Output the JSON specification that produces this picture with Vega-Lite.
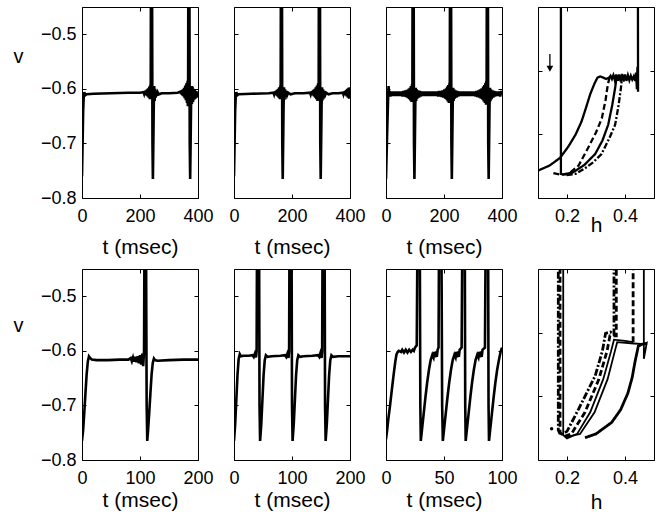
{
"$schema":"https://vega.github.io/schema/vega-lite/v6.json",
"padding":{"left":12,"top":6,"right":0,"bottom":0},
"background":"white",
"config":{
 "view":{"stroke":"black","strokeWidth":1},
 "axis":{"grid":false,"domain":false,"tickSize":-4,"tickColor":"black","tickWidth":1,"labelFont":"Liberation Sans","titleFont":"Liberation Sans","labelFontSize":18,"titleFontSize":21,"labelColor":"black","titleColor":"black","titleFontWeight":"normal","labelFlush":false,"labelOverlap":false},
 "axisBottom":{"labelBaseline":"alphabetic","labelPadding":27.5},
 "axisLeft":{"labelPadding":10},
 "line":{"strokeWidth":2.6}
},
"datasets":{
"ts":[
{"p":1,"t":0,"v":-0.760},{"p":1,"t":2,"v":-0.700},{"p":1,"t":4,"v":-0.640},{"p":1,"t":6,"v":-0.614},{"p":1,"t":8,"v":-0.606},{"p":1,"t":11,"v":-0.612},{"p":1,"t":16,"v":-0.610},{"p":1,"t":40,"v":-0.609},{"p":1,"t":100,"v":-0.608},{"p":1,"t":160,"v":-0.607},{"p":1,"t":200,"v":-0.607},{"p":1,"t":212,"v":-0.606},
{"p":1,"t":214,"v":-0.609},{"p":1,"t":216,"v":-0.604},{"p":1,"t":218,"v":-0.611},{"p":1,"t":220,"v":-0.603},{"p":1,"t":222,"v":-0.612},{"p":1,"t":224,"v":-0.601},{"p":1,"t":226,"v":-0.614},{"p":1,"t":228,"v":-0.599},{"p":1,"t":230,"v":-0.616},{"p":1,"t":232,"v":-0.596},{"p":1,"t":234,"v":-0.619},{"p":1,"t":236,"v":-0.592},{"p":1,"t":237,"v":-0.600},
{"p":1,"t":238,"v":-0.30},{"p":1,"t":241,"v":-0.30},{"p":1,"t":243,"v":-0.700},{"p":1,"t":244.5,"v":-0.765},{"p":1,"t":246,"v":-0.700},{"p":1,"t":247.5,"v":-0.630},{"p":1,"t":249,"v":-0.595},{"p":1,"t":250.5,"v":-0.622},{"p":1,"t":252,"v":-0.600},{"p":1,"t":254,"v":-0.616},{"p":1,"t":256,"v":-0.603},{"p":1,"t":258,"v":-0.613},{"p":1,"t":261,"v":-0.606},{"p":1,"t":265,"v":-0.610},{"p":1,"t":275,"v":-0.608},{"p":1,"t":300,"v":-0.608},{"p":1,"t":330,"v":-0.607},
{"p":1,"t":340,"v":-0.605},{"p":1,"t":342,"v":-0.610},{"p":1,"t":344,"v":-0.603},{"p":1,"t":346,"v":-0.612},{"p":1,"t":348,"v":-0.601},{"p":1,"t":350,"v":-0.614},{"p":1,"t":352,"v":-0.598},{"p":1,"t":354,"v":-0.617},{"p":1,"t":356,"v":-0.594},{"p":1,"t":358,"v":-0.621},{"p":1,"t":360,"v":-0.590},{"p":1,"t":362,"v":-0.626},{"p":1,"t":364,"v":-0.585},{"p":1,"t":365,"v":-0.632},{"p":1,"t":366,"v":-0.580},
{"p":1,"t":367,"v":-0.30},{"p":1,"t":370,"v":-0.30},{"p":1,"t":371.5,"v":-0.700},{"p":1,"t":373,"v":-0.765},{"p":1,"t":374.5,"v":-0.700},{"p":1,"t":376,"v":-0.630},{"p":1,"t":377.5,"v":-0.595},{"p":1,"t":379,"v":-0.628},{"p":1,"t":381,"v":-0.596},{"p":1,"t":383,"v":-0.624},{"p":1,"t":385,"v":-0.600},{"p":1,"t":387,"v":-0.620},{"p":1,"t":389,"v":-0.602},{"p":1,"t":391,"v":-0.618},{"p":1,"t":393,"v":-0.604},{"p":1,"t":395,"v":-0.616},{"p":1,"t":397,"v":-0.605},{"p":1,"t":399,"v":-0.614},{"p":1,"t":400,"v":-0.608},

{"p":2,"t":0,"v":-0.760},{"p":2,"t":2,"v":-0.700},{"p":2,"t":4,"v":-0.640},{"p":2,"t":6,"v":-0.614},{"p":2,"t":8,"v":-0.606},{"p":2,"t":11,"v":-0.612},{"p":2,"t":16,"v":-0.610},{"p":2,"t":60,"v":-0.609},{"p":2,"t":120,"v":-0.608},{"p":2,"t":136,"v":-0.607},
{"p":2,"t":138,"v":-0.610},{"p":2,"t":140,"v":-0.605},{"p":2,"t":142,"v":-0.611},{"p":2,"t":144,"v":-0.604},{"p":2,"t":146,"v":-0.612},{"p":2,"t":148,"v":-0.602},{"p":2,"t":150,"v":-0.614},{"p":2,"t":152,"v":-0.600},{"p":2,"t":154,"v":-0.616},{"p":2,"t":156,"v":-0.597},{"p":2,"t":158,"v":-0.619},{"p":2,"t":160,"v":-0.594},{"p":2,"t":161,"v":-0.600},
{"p":2,"t":162,"v":-0.30},{"p":2,"t":165,"v":-0.30},{"p":2,"t":166.5,"v":-0.700},{"p":2,"t":168,"v":-0.765},{"p":2,"t":169.5,"v":-0.700},{"p":2,"t":171,"v":-0.630},{"p":2,"t":172.5,"v":-0.597},{"p":2,"t":174,"v":-0.620},{"p":2,"t":176,"v":-0.601},{"p":2,"t":178,"v":-0.615},{"p":2,"t":180,"v":-0.604},{"p":2,"t":183,"v":-0.612},{"p":2,"t":187,"v":-0.607},{"p":2,"t":195,"v":-0.610},{"p":2,"t":210,"v":-0.608},{"p":2,"t":240,"v":-0.608},{"p":2,"t":262,"v":-0.607},
{"p":2,"t":264,"v":-0.610},{"p":2,"t":266,"v":-0.605},{"p":2,"t":268,"v":-0.611},{"p":2,"t":270,"v":-0.604},{"p":2,"t":272,"v":-0.612},{"p":2,"t":274,"v":-0.602},{"p":2,"t":276,"v":-0.614},{"p":2,"t":278,"v":-0.600},{"p":2,"t":280,"v":-0.616},{"p":2,"t":282,"v":-0.597},{"p":2,"t":284,"v":-0.619},{"p":2,"t":286,"v":-0.594},{"p":2,"t":288,"v":-0.622},{"p":2,"t":290,"v":-0.590},{"p":2,"t":292,"v":-0.600},
{"p":2,"t":293,"v":-0.30},{"p":2,"t":296,"v":-0.30},{"p":2,"t":297.5,"v":-0.700},{"p":2,"t":299,"v":-0.765},{"p":2,"t":300.5,"v":-0.700},{"p":2,"t":302,"v":-0.630},{"p":2,"t":303.5,"v":-0.597},{"p":2,"t":305,"v":-0.621},{"p":2,"t":307,"v":-0.601},{"p":2,"t":309,"v":-0.616},{"p":2,"t":311,"v":-0.604},{"p":2,"t":314,"v":-0.612},{"p":2,"t":318,"v":-0.607},{"p":2,"t":326,"v":-0.610},{"p":2,"t":340,"v":-0.608},{"p":2,"t":360,"v":-0.608},{"p":2,"t":375,"v":-0.607},
{"p":2,"t":377,"v":-0.610},{"p":2,"t":379,"v":-0.605},{"p":2,"t":381,"v":-0.611},{"p":2,"t":383,"v":-0.604},{"p":2,"t":385,"v":-0.612},{"p":2,"t":387,"v":-0.602},{"p":2,"t":389,"v":-0.614},{"p":2,"t":391,"v":-0.600},{"p":2,"t":393,"v":-0.616},{"p":2,"t":395,"v":-0.598},{"p":2,"t":397,"v":-0.618},{"p":2,"t":399,"v":-0.597},{"p":2,"t":400,"v":-0.612},

{"p":3,"t":0,"v":-0.765},{"p":3,"t":3,"v":-0.700},{"p":3,"t":6,"v":-0.640},{"p":3,"t":8,"v":-0.605},{"p":3,"t":9,"v":-0.595},{"p":3,"t":10,"v":-0.612},
{"p":3,"t":12,"v":-0.604},{"p":3,"t":15,"v":-0.614},{"p":3,"t":18,"v":-0.605},{"p":3,"t":21,"v":-0.613},{"p":3,"t":24,"v":-0.605},{"p":3,"t":27,"v":-0.613},{"p":3,"t":30,"v":-0.605},{"p":3,"t":33,"v":-0.613},{"p":3,"t":36,"v":-0.605},{"p":3,"t":39,"v":-0.613},{"p":3,"t":42,"v":-0.605},{"p":3,"t":45,"v":-0.613},{"p":3,"t":48,"v":-0.605},{"p":3,"t":51,"v":-0.613},{"p":3,"t":54,"v":-0.605},{"p":3,"t":57,"v":-0.614},{"p":3,"t":60,"v":-0.604},{"p":3,"t":63,"v":-0.614},{"p":3,"t":66,"v":-0.603},{"p":3,"t":69,"v":-0.615},{"p":3,"t":72,"v":-0.602},{"p":3,"t":75,"v":-0.617},{"p":3,"t":78,"v":-0.600},{"p":3,"t":80,"v":-0.619},{"p":3,"t":82,"v":-0.598},{"p":3,"t":84,"v":-0.621},{"p":3,"t":86,"v":-0.595},{"p":3,"t":88,"v":-0.624},{"p":3,"t":90,"v":-0.591},{"p":3,"t":91,"v":-0.600},
{"p":3,"t":92,"v":-0.30},{"p":3,"t":95,"v":-0.30},{"p":3,"t":96.5,"v":-0.700},{"p":3,"t":98,"v":-0.765},{"p":3,"t":99.5,"v":-0.700},{"p":3,"t":101,"v":-0.630},{"p":3,"t":102.5,"v":-0.598},{"p":3,"t":104,"v":-0.622},{"p":3,"t":106,"v":-0.601},{"p":3,"t":108,"v":-0.618},{"p":3,"t":111,"v":-0.603},{"p":3,"t":114,"v":-0.616},{"p":3,"t":117,"v":-0.604},{"p":3,"t":120,"v":-0.614},
{"p":3,"t":123,"v":-0.605},{"p":3,"t":126,"v":-0.613},{"p":3,"t":129,"v":-0.605},{"p":3,"t":132,"v":-0.613},{"p":3,"t":135,"v":-0.605},{"p":3,"t":138,"v":-0.613},{"p":3,"t":141,"v":-0.605},{"p":3,"t":144,"v":-0.613},{"p":3,"t":147,"v":-0.605},{"p":3,"t":150,"v":-0.613},{"p":3,"t":153,"v":-0.605},{"p":3,"t":156,"v":-0.613},{"p":3,"t":159,"v":-0.605},{"p":3,"t":162,"v":-0.613},{"p":3,"t":165,"v":-0.605},{"p":3,"t":168,"v":-0.613},{"p":3,"t":171,"v":-0.605},{"p":3,"t":174,"v":-0.613},{"p":3,"t":177,"v":-0.605},{"p":3,"t":180,"v":-0.614},{"p":3,"t":183,"v":-0.604},{"p":3,"t":186,"v":-0.614},{"p":3,"t":189,"v":-0.604},{"p":3,"t":192,"v":-0.615},{"p":3,"t":195,"v":-0.603},{"p":3,"t":198,"v":-0.616},{"p":3,"t":201,"v":-0.601},{"p":3,"t":204,"v":-0.618},{"p":3,"t":207,"v":-0.599},{"p":3,"t":209,"v":-0.620},{"p":3,"t":211,"v":-0.596},{"p":3,"t":213,"v":-0.623},{"p":3,"t":215,"v":-0.593},{"p":3,"t":217,"v":-0.626},{"p":3,"t":219,"v":-0.589},{"p":3,"t":220,"v":-0.600},
{"p":3,"t":221,"v":-0.30},{"p":3,"t":224,"v":-0.30},{"p":3,"t":225.5,"v":-0.700},{"p":3,"t":227,"v":-0.765},{"p":3,"t":228.5,"v":-0.700},{"p":3,"t":230,"v":-0.630},{"p":3,"t":231.5,"v":-0.598},{"p":3,"t":233,"v":-0.622},{"p":3,"t":235,"v":-0.601},{"p":3,"t":237,"v":-0.618},{"p":3,"t":240,"v":-0.603},{"p":3,"t":243,"v":-0.616},{"p":3,"t":246,"v":-0.604},{"p":3,"t":249,"v":-0.614},{"p":3,"t":252,"v":-0.605},
{"p":3,"t":255,"v":-0.613},{"p":3,"t":258,"v":-0.605},{"p":3,"t":261,"v":-0.613},{"p":3,"t":264,"v":-0.605},{"p":3,"t":267,"v":-0.613},{"p":3,"t":270,"v":-0.605},{"p":3,"t":273,"v":-0.613},{"p":3,"t":276,"v":-0.605},{"p":3,"t":279,"v":-0.613},{"p":3,"t":282,"v":-0.605},{"p":3,"t":285,"v":-0.613},{"p":3,"t":288,"v":-0.605},{"p":3,"t":291,"v":-0.613},{"p":3,"t":294,"v":-0.605},{"p":3,"t":297,"v":-0.613},{"p":3,"t":300,"v":-0.605},{"p":3,"t":303,"v":-0.613},{"p":3,"t":306,"v":-0.605},{"p":3,"t":309,"v":-0.614},{"p":3,"t":312,"v":-0.604},{"p":3,"t":315,"v":-0.615},{"p":3,"t":318,"v":-0.603},{"p":3,"t":321,"v":-0.616},{"p":3,"t":324,"v":-0.601},{"p":3,"t":327,"v":-0.618},{"p":3,"t":330,"v":-0.599},{"p":3,"t":333,"v":-0.620},{"p":3,"t":335,"v":-0.596},{"p":3,"t":337,"v":-0.623},{"p":3,"t":339,"v":-0.593},{"p":3,"t":341,"v":-0.626},{"p":3,"t":343,"v":-0.589},{"p":3,"t":345,"v":-0.629},{"p":3,"t":346,"v":-0.585},{"p":3,"t":347,"v":-0.600},
{"p":3,"t":348,"v":-0.30},{"p":3,"t":351,"v":-0.30},{"p":3,"t":352.5,"v":-0.700},{"p":3,"t":354,"v":-0.765},{"p":3,"t":355.5,"v":-0.700},{"p":3,"t":357,"v":-0.630},{"p":3,"t":358.5,"v":-0.598},{"p":3,"t":360,"v":-0.623},{"p":3,"t":362,"v":-0.601},{"p":3,"t":364,"v":-0.619},{"p":3,"t":367,"v":-0.603},{"p":3,"t":370,"v":-0.616},{"p":3,"t":373,"v":-0.604},{"p":3,"t":376,"v":-0.614},{"p":3,"t":379,"v":-0.605},{"p":3,"t":382,"v":-0.613},{"p":3,"t":385,"v":-0.605},{"p":3,"t":388,"v":-0.613},{"p":3,"t":391,"v":-0.605},{"p":3,"t":394,"v":-0.614},{"p":3,"t":397,"v":-0.604},{"p":3,"t":400,"v":-0.611},

{"p":5,"t":0,"v":-0.765},{"p":5,"t":2,"v":-0.745},{"p":5,"t":4,"v":-0.712},{"p":5,"t":6,"v":-0.677},{"p":5,"t":8,"v":-0.643},{"p":5,"t":10,"v":-0.620},{"p":5,"t":12,"v":-0.610},{"p":5,"t":14,"v":-0.613},{"p":5,"t":17,"v":-0.616},{"p":5,"t":25,"v":-0.617},{"p":5,"t":45,"v":-0.617},{"p":5,"t":65,"v":-0.616},{"p":5,"t":80,"v":-0.616},
{"p":5,"t":84,"v":-0.613},{"p":5,"t":86,"v":-0.619},{"p":5,"t":88,"v":-0.612},{"p":5,"t":90,"v":-0.620},{"p":5,"t":92,"v":-0.611},{"p":5,"t":94,"v":-0.621},{"p":5,"t":96,"v":-0.610},{"p":5,"t":98,"v":-0.623},{"p":5,"t":100,"v":-0.608},{"p":5,"t":102,"v":-0.625},{"p":5,"t":104,"v":-0.605},{"p":5,"t":105.5,"v":-0.628},{"p":5,"t":107,"v":-0.600},
{"p":5,"t":108,"v":-0.30},{"p":5,"t":110,"v":-0.30},{"p":5,"t":111.5,"v":-0.700},{"p":5,"t":112.5,"v":-0.765},{"p":5,"t":114,"v":-0.745},{"p":5,"t":116,"v":-0.712},{"p":5,"t":118,"v":-0.677},{"p":5,"t":120,"v":-0.643},{"p":5,"t":122,"v":-0.622},{"p":5,"t":124,"v":-0.614},{"p":5,"t":126,"v":-0.617},{"p":5,"t":130,"v":-0.618},{"p":5,"t":150,"v":-0.617},{"p":5,"t":175,"v":-0.616},{"p":5,"t":200,"v":-0.616},

{"p":6,"t":0,"v":-0.765},{"p":6,"t":2,"v":-0.735},{"p":6,"t":4,"v":-0.690},{"p":6,"t":6,"v":-0.645},{"p":6,"t":8,"v":-0.615},{"p":6,"t":10,"v":-0.606},{"p":6,"t":12,"v":-0.610},{"p":6,"t":16,"v":-0.609},{"p":6,"t":25,"v":-0.609},{"p":6,"t":32,"v":-0.608},{"p":6,"t":34,"v":-0.611},{"p":6,"t":36,"v":-0.605},{"p":6,"t":38,"v":-0.612},{"p":6,"t":39,"v":-0.600},
{"p":6,"t":40,"v":-0.30},{"p":6,"t":43,"v":-0.30},{"p":6,"t":44,"v":-0.700},{"p":6,"t":45,"v":-0.765},{"p":6,"t":47,"v":-0.735},{"p":6,"t":49,"v":-0.690},{"p":6,"t":51,"v":-0.645},{"p":6,"t":53,"v":-0.617},{"p":6,"t":55,"v":-0.608},{"p":6,"t":58,"v":-0.611},{"p":6,"t":65,"v":-0.610},{"p":6,"t":80,"v":-0.609},{"p":6,"t":88,"v":-0.608},{"p":6,"t":90,"v":-0.611},{"p":6,"t":92,"v":-0.605},{"p":6,"t":94,"v":-0.613},{"p":6,"t":95,"v":-0.600},
{"p":6,"t":96,"v":-0.30},{"p":6,"t":99,"v":-0.30},{"p":6,"t":100,"v":-0.700},{"p":6,"t":101,"v":-0.765},{"p":6,"t":103,"v":-0.735},{"p":6,"t":105,"v":-0.690},{"p":6,"t":107,"v":-0.645},{"p":6,"t":109,"v":-0.617},{"p":6,"t":111,"v":-0.608},{"p":6,"t":114,"v":-0.611},{"p":6,"t":120,"v":-0.610},{"p":6,"t":135,"v":-0.609},{"p":6,"t":145,"v":-0.608},{"p":6,"t":147,"v":-0.611},{"p":6,"t":149,"v":-0.604},{"p":6,"t":151,"v":-0.613},{"p":6,"t":152,"v":-0.600},
{"p":6,"t":153,"v":-0.30},{"p":6,"t":156,"v":-0.30},{"p":6,"t":157,"v":-0.700},{"p":6,"t":158,"v":-0.765},{"p":6,"t":160,"v":-0.735},{"p":6,"t":162,"v":-0.690},{"p":6,"t":164,"v":-0.645},{"p":6,"t":166,"v":-0.617},{"p":6,"t":168,"v":-0.608},{"p":6,"t":171,"v":-0.611},{"p":6,"t":180,"v":-0.610},{"p":6,"t":200,"v":-0.610},

{"p":7,"t":0,"v":-0.762},{"p":7,"t":1,"v":-0.745},{"p":7,"t":2,"v":-0.725},{"p":7,"t":3.5,"v":-0.700},{"p":7,"t":5,"v":-0.672},{"p":7,"t":6.5,"v":-0.645},{"p":7,"t":8,"v":-0.620},{"p":7,"t":9,"v":-0.607},{"p":7,"t":10,"v":-0.602},{"p":7,"t":11,"v":-0.600},{"p":7,"t":13,"v":-0.602},{"p":7,"t":14,"v":-0.598},{"p":7,"t":15.5,"v":-0.603},{"p":7,"t":17,"v":-0.598},{"p":7,"t":18.5,"v":-0.603},{"p":7,"t":20,"v":-0.598},{"p":7,"t":21.5,"v":-0.602},{"p":7,"t":23,"v":-0.598},{"p":7,"t":24,"v":-0.600},{"p":7,"t":25,"v":-0.594},{"p":7,"t":26.5,"v":-0.590},
{"p":7,"t":27.4,"v":-0.30},{"p":7,"t":29.0,"v":-0.30},{"p":7,"t":29.6,"v":-0.700},{"p":7,"t":30,"v":-0.765},{"p":7,"t":31,"v":-0.745},{"p":7,"t":32.5,"v":-0.715},{"p":7,"t":34,"v":-0.685},{"p":7,"t":35.5,"v":-0.658},{"p":7,"t":37,"v":-0.635},{"p":7,"t":38.5,"v":-0.617},{"p":7,"t":40,"v":-0.607},{"p":7,"t":41,"v":-0.612},{"p":7,"t":41.7,"v":-0.602},{"p":7,"t":42.4,"v":-0.612},{"p":7,"t":43.1,"v":-0.601},{"p":7,"t":43.8,"v":-0.611},{"p":7,"t":44.5,"v":-0.598},{"p":7,"t":45.3,"v":-0.594},
{"p":7,"t":45.9,"v":-0.30},{"p":7,"t":47.6,"v":-0.30},{"p":7,"t":48.4,"v":-0.700},{"p":7,"t":49,"v":-0.765},{"p":7,"t":50,"v":-0.745},{"p":7,"t":51.5,"v":-0.715},{"p":7,"t":53,"v":-0.685},{"p":7,"t":54.5,"v":-0.658},{"p":7,"t":56,"v":-0.635},{"p":7,"t":57.5,"v":-0.617},{"p":7,"t":59,"v":-0.607},{"p":7,"t":60,"v":-0.612},{"p":7,"t":60.7,"v":-0.602},{"p":7,"t":61.4,"v":-0.612},{"p":7,"t":62.1,"v":-0.601},{"p":7,"t":62.8,"v":-0.611},{"p":7,"t":63.5,"v":-0.598},{"p":7,"t":65.2,"v":-0.594},
{"p":7,"t":66.1,"v":-0.30},{"p":7,"t":67.8,"v":-0.30},{"p":7,"t":68.3,"v":-0.700},{"p":7,"t":68.7,"v":-0.765},{"p":7,"t":69.7,"v":-0.745},{"p":7,"t":71.2,"v":-0.715},{"p":7,"t":72.7,"v":-0.685},{"p":7,"t":74.2,"v":-0.658},{"p":7,"t":75.7,"v":-0.635},{"p":7,"t":77.2,"v":-0.617},{"p":7,"t":78.7,"v":-0.607},{"p":7,"t":79.7,"v":-0.612},{"p":7,"t":80.4,"v":-0.602},{"p":7,"t":81.1,"v":-0.612},{"p":7,"t":81.8,"v":-0.601},{"p":7,"t":82.5,"v":-0.611},{"p":7,"t":83.2,"v":-0.598},{"p":7,"t":85.3,"v":-0.594},
{"p":7,"t":86.2,"v":-0.30},{"p":7,"t":87.9,"v":-0.30},{"p":7,"t":88.4,"v":-0.700},{"p":7,"t":88.8,"v":-0.765},{"p":7,"t":89.8,"v":-0.745},{"p":7,"t":91.3,"v":-0.715},{"p":7,"t":92.8,"v":-0.685},{"p":7,"t":94.3,"v":-0.658},{"p":7,"t":95.8,"v":-0.635},{"p":7,"t":97.3,"v":-0.617},{"p":7,"t":98.8,"v":-0.602},{"p":7,"t":100,"v":-0.594}
],
"ph":[
{"p":4,"s":"a4","h":0.08,"v":-0.764},{"p":4,"s":"a4","h":0.1,"v":-0.757},{"p":4,"s":"a4","h":0.14,"v":-0.749},{"p":4,"s":"a4","h":0.176,"v":-0.737},{"p":4,"s":"a4","h":0.205,"v":-0.719},{"p":4,"s":"a4","h":0.23,"v":-0.700},{"p":4,"s":"a4","h":0.25,"v":-0.680},{"p":4,"s":"a4","h":0.265,"v":-0.659},{"p":4,"s":"a4","h":0.28,"v":-0.637},{"p":4,"s":"a4","h":0.295,"v":-0.620},{"p":4,"s":"a4","h":0.305,"v":-0.611},{"p":4,"s":"a4","h":0.315,"v":-0.609},{"p":4,"s":"a4","h":0.325,"v":-0.611},{"p":4,"s":"a4","h":0.335,"v":-0.613},{"p":4,"s":"a4","h":0.345,"v":-0.611},{"p":4,"s":"a4","h":0.35,"v":-0.608},{"p":4,"s":"a4","h":0.355,"v":-0.613},{"p":4,"s":"a4","h":0.36,"v":-0.607},{"p":4,"s":"a4","h":0.365,"v":-0.615},{"p":4,"s":"a4","h":0.37,"v":-0.606},{"p":4,"s":"a4","h":0.375,"v":-0.616},{"p":4,"s":"a4","h":0.38,"v":-0.606},{"p":4,"s":"a4","h":0.385,"v":-0.617},{"p":4,"s":"a4","h":0.39,"v":-0.605},{"p":4,"s":"a4","h":0.395,"v":-0.617},{"p":4,"s":"a4","h":0.40,"v":-0.606},{"p":4,"s":"a4","h":0.405,"v":-0.616},{"p":4,"s":"a4","h":0.41,"v":-0.607},{"p":4,"s":"a4","h":0.415,"v":-0.615},{"p":4,"s":"a4","h":0.42,"v":-0.608},{"p":4,"s":"a4","h":0.425,"v":-0.614},{"p":4,"s":"a4","h":0.43,"v":-0.609},{"p":4,"s":"a4","h":0.435,"v":-0.616},{"p":4,"s":"a4","h":0.438,"v":-0.603},{"p":4,"s":"a4","h":0.441,"v":-0.629},{"p":4,"s":"a4","h":0.443,"v":-0.594},{"p":4,"s":"a4","h":0.445,"v":-0.633},{"p":4,"s":"a4","h":0.444,"v":-0.30},
{"p":4,"s":"c4","h":0.179,"v":-0.30},{"p":4,"s":"c4","h":0.179,"v":-0.762},{"p":4,"s":"c4","h":0.186,"v":-0.763},{"p":4,"s":"c4","h":0.22,"v":-0.760},{"p":4,"s":"c4","h":0.26,"v":-0.748},{"p":4,"s":"c4","h":0.297,"v":-0.731},{"p":4,"s":"c4","h":0.322,"v":-0.710},{"p":4,"s":"c4","h":0.342,"v":-0.685},{"p":4,"s":"c4","h":0.356,"v":-0.654},{"p":4,"s":"c4","h":0.366,"v":-0.627},{"p":4,"s":"c4","h":0.371,"v":-0.610},{"p":4,"s":"c4","h":0.38,"v":-0.608},
{"p":4,"s":"b4","h":0.153,"v":-0.761},{"p":4,"s":"b4","h":0.175,"v":-0.763},{"p":4,"s":"b4","h":0.203,"v":-0.763},{"p":4,"s":"b4","h":0.24,"v":-0.749},{"p":4,"s":"b4","h":0.272,"v":-0.722},{"p":4,"s":"b4","h":0.30,"v":-0.697},{"p":4,"s":"b4","h":0.32,"v":-0.675},{"p":4,"s":"b4","h":0.333,"v":-0.646},{"p":4,"s":"b4","h":0.341,"v":-0.621},{"p":4,"s":"b4","h":0.348,"v":-0.609},{"p":4,"s":"b4","h":0.36,"v":-0.609},
{"p":4,"s":"d4","h":0.199,"v":-0.764},{"p":4,"s":"d4","h":0.23,"v":-0.762},{"p":4,"s":"d4","h":0.26,"v":-0.754},{"p":4,"s":"d4","h":0.29,"v":-0.744},{"p":4,"s":"d4","h":0.319,"v":-0.731},{"p":4,"s":"d4","h":0.345,"v":-0.707},{"p":4,"s":"d4","h":0.366,"v":-0.685},{"p":4,"s":"d4","h":0.378,"v":-0.654},{"p":4,"s":"d4","h":0.386,"v":-0.627},{"p":4,"s":"d4","h":0.39,"v":-0.609},{"p":4,"s":"d4","h":0.40,"v":-0.608},

{"p":8,"s":"a8","h":0.170,"v":-0.30},{"p":8,"s":"a8","h":0.170,"v":-0.753},{"p":8,"s":"a8","h":0.178,"v":-0.761},{"p":8,"s":"a8","h":0.20,"v":-0.755},{"p":8,"s":"a8","h":0.24,"v":-0.720},{"p":8,"s":"a8","h":0.297,"v":-0.668},{"p":8,"s":"a8","h":0.322,"v":-0.629},{"p":8,"s":"a8","h":0.333,"v":-0.601},{"p":8,"s":"a8","h":0.35,"v":-0.599},{"p":8,"s":"a8","h":0.362,"v":-0.603},{"p":8,"s":"a8","h":0.362,"v":-0.30},
{"p":8,"s":"b8","h":0.176,"v":-0.30},{"p":8,"s":"b8","h":0.176,"v":-0.757},{"p":8,"s":"b8","h":0.19,"v":-0.763},{"p":8,"s":"b8","h":0.215,"v":-0.759},{"p":8,"s":"b8","h":0.262,"v":-0.725},{"p":8,"s":"b8","h":0.31,"v":-0.673},{"p":8,"s":"b8","h":0.338,"v":-0.629},{"p":8,"s":"b8","h":0.348,"v":-0.605},{"p":8,"s":"b8","h":0.37,"v":-0.605},{"p":8,"s":"b8","h":0.370,"v":-0.30},
{"p":8,"s":"e8","h":0.428,"v":-0.615},{"p":8,"s":"e8","h":0.428,"v":-0.30},
{"p":8,"s":"g8","h":0.262,"v":-0.765},{"p":8,"s":"g8","h":0.30,"v":-0.759},{"p":8,"s":"g8","h":0.354,"v":-0.741},{"p":8,"s":"g8","h":0.385,"v":-0.721},{"p":8,"s":"g8","h":0.41,"v":-0.695},{"p":8,"s":"g8","h":0.425,"v":-0.670},{"p":8,"s":"g8","h":0.434,"v":-0.647},{"p":8,"s":"g8","h":0.446,"v":-0.621},{"p":8,"s":"g8","h":0.46,"v":-0.618},{"p":8,"s":"g8","h":0.476,"v":-0.617},
{"p":9,"s":"c8","h":0.187,"v":-0.30},{"p":9,"s":"c8","h":0.187,"v":-0.761},{"p":9,"s":"c8","h":0.20,"v":-0.766},{"p":9,"s":"c8","h":0.235,"v":-0.759},{"p":9,"s":"c8","h":0.28,"v":-0.725},{"p":9,"s":"c8","h":0.325,"v":-0.673},{"p":9,"s":"c8","h":0.352,"v":-0.629},{"p":9,"s":"c8","h":0.362,"v":-0.611},{"p":9,"s":"c8","h":0.40,"v":-0.613},{"p":9,"s":"c8","h":0.428,"v":-0.615},
{"p":9,"s":"d8","h":0.195,"v":-0.764},{"p":9,"s":"d8","h":0.245,"v":-0.759},{"p":9,"s":"d8","h":0.295,"v":-0.725},{"p":9,"s":"d8","h":0.34,"v":-0.673},{"p":9,"s":"d8","h":0.365,"v":-0.629},{"p":9,"s":"d8","h":0.373,"v":-0.615},{"p":9,"s":"d8","h":0.43,"v":-0.617},{"p":9,"s":"d8","h":0.465,"v":-0.618},{"p":9,"s":"d8","h":0.475,"v":-0.616},{"p":9,"s":"d8","h":0.465,"v":-0.641},{"p":9,"s":"d8","h":0.465,"v":-0.30}
],
"ar":[{"h":0.141,"v":-0.574,"v2":-0.597}],
"dot":[{"h":0.147,"v":-0.751}]
},
"columns":4,
"spacing":{"row":71,"column":36},
"bounds":"flush",
"concat":[
{"width":116,"height":191,"resolve":{"axis":{"x":"independent","y":"independent"}},"layer":[
 {"data":{"name":"ts"},"transform":[{"filter":"datum.p==1"}],"mark":{"type":"line","clip":true,"color":"black","strokeWidth":2.6},
  "encoding":{"x":{"field":"t","type":"quantitative","scale":{"domain":[0,400],"nice":false,"zero":false},"axis":{"orient":"bottom","values":[0,200,400],"title":"t (msec)","titleX":58,"titleY":55,"titleAlign":"center","titleBaseline":"alphabetic"}},
   "y":{"field":"v","type":"quantitative","scale":{"domain":[-0.8,-0.45],"nice":false,"zero":false},"axis":{"orient":"left","values":[-0.8,-0.7,-0.6,-0.5],"format":".1f","title":"v","titleFontSize":20,"titleAngle":0,"titleX":-64,"titleY":49,"titleAlign":"center","titleBaseline":"middle"}},
   "order":{"value":null}}},
 {"data":{"name":"ts"},"transform":[{"filter":"datum.p==1"}],"mark":{"type":"line","clip":true,"opacity":0},
  "encoding":{"x":{"field":"t","type":"quantitative","scale":{"domain":[0,400],"nice":false,"zero":false},"axis":{"orient":"top","values":[0,200,400],"labels":false,"title":null}},
   "y":{"field":"v","type":"quantitative","scale":{"domain":[-0.8,-0.45],"nice":false,"zero":false},"axis":{"orient":"right","values":[-0.8,-0.7,-0.6,-0.5],"labels":false,"title":null}},
   "order":{"value":null}}}
]},
{"width":116,"height":191,"resolve":{"axis":{"x":"independent","y":"independent"}},"layer":[
 {"data":{"name":"ts"},"transform":[{"filter":"datum.p==2"}],"mark":{"type":"line","clip":true,"color":"black","strokeWidth":2.6},
  "encoding":{"x":{"field":"t","type":"quantitative","scale":{"domain":[0,400],"nice":false,"zero":false},"axis":{"orient":"bottom","values":[0,200,400],"title":"t (msec)","titleX":58,"titleY":55,"titleAlign":"center","titleBaseline":"alphabetic"}},
   "y":{"field":"v","type":"quantitative","scale":{"domain":[-0.8,-0.45],"nice":false,"zero":false},"axis":{"orient":"left","values":[-0.8,-0.7,-0.6,-0.5],"labels":false,"title":null}},
   "order":{"value":null}}},
 {"data":{"name":"ts"},"transform":[{"filter":"datum.p==2"}],"mark":{"type":"line","clip":true,"opacity":0},
  "encoding":{"x":{"field":"t","type":"quantitative","scale":{"domain":[0,400],"nice":false,"zero":false},"axis":{"orient":"top","values":[0,200,400],"labels":false,"title":null}},
   "y":{"field":"v","type":"quantitative","scale":{"domain":[-0.8,-0.45],"nice":false,"zero":false},"axis":{"orient":"right","values":[-0.8,-0.7,-0.6,-0.5],"labels":false,"title":null}},
   "order":{"value":null}}}
]},
{"width":116,"height":191,"resolve":{"axis":{"x":"independent","y":"independent"}},"layer":[
 {"data":{"name":"ts"},"transform":[{"filter":"datum.p==3"}],"mark":{"type":"line","clip":true,"color":"black","strokeWidth":2.6},
  "encoding":{"x":{"field":"t","type":"quantitative","scale":{"domain":[0,400],"nice":false,"zero":false},"axis":{"orient":"bottom","values":[0,200,400],"title":"t (msec)","titleX":58,"titleY":55,"titleAlign":"center","titleBaseline":"alphabetic"}},
   "y":{"field":"v","type":"quantitative","scale":{"domain":[-0.8,-0.45],"nice":false,"zero":false},"axis":{"orient":"left","values":[-0.8,-0.7,-0.6,-0.5],"labels":false,"title":null}},
   "order":{"value":null}}},
 {"data":{"name":"ts"},"transform":[{"filter":"datum.p==3"}],"mark":{"type":"line","clip":true,"opacity":0},
  "encoding":{"x":{"field":"t","type":"quantitative","scale":{"domain":[0,400],"nice":false,"zero":false},"axis":{"orient":"top","values":[0,200,400],"labels":false,"title":null}},
   "y":{"field":"v","type":"quantitative","scale":{"domain":[-0.8,-0.45],"nice":false,"zero":false},"axis":{"orient":"right","values":[-0.8,-0.7,-0.6,-0.5],"labels":false,"title":null}},
   "order":{"value":null}}}
]},
{"width":116,"height":191,"resolve":{"axis":{"x":"independent","y":"independent"}},"layer":[
 {"data":{"name":"ph"},"transform":[{"filter":"datum.p==4"}],"mark":{"type":"line","clip":true,"color":"black","strokeWidth":2.3},
  "encoding":{"x":{"field":"h","type":"quantitative","scale":{"domain":[0.1,0.5],"nice":false,"zero":false},"axis":{"orient":"bottom","values":[0.2,0.4],"format":".1f","title":"h","titleX":58,"titleY":33,"titleAlign":"center","titleBaseline":"alphabetic"}},
   "y":{"field":"v","type":"quantitative","scale":{"domain":[-0.8,-0.5],"nice":false,"zero":false},"axis":{"orient":"left","values":[-0.8,-0.7,-0.6,-0.5],"labels":false,"title":null}},
   "detail":{"field":"s","type":"nominal"},
   "strokeDash":{"field":"s","type":"nominal","scale":{"domain":["a4","b4","c4","d4","a8","b8","e8","g8"],"range":[[1,0],[6,3],[1,0],[6,2,2,2],[7,2,2,2],[6,3],[6,3],[1,0]]},"legend":null},
   "order":{"value":null}}},
 {"data":{"name":"ar"},"mark":{"type":"rule","color":"black","strokeWidth":1.3},
  "encoding":{"x":{"field":"h","type":"quantitative","scale":{"domain":[0.1,0.5],"nice":false,"zero":false},"axis":null},
   "y":{"field":"v","type":"quantitative","scale":{"domain":[-0.8,-0.5],"nice":false,"zero":false},"axis":null},"y2":{"field":"v2"}}},
 {"data":{"name":"ar"},"mark":{"type":"point","shape":"triangle-down","filled":true,"color":"black","size":45,"opacity":1},
  "encoding":{"x":{"field":"h","type":"quantitative","scale":{"domain":[0.1,0.5],"nice":false,"zero":false},"axis":null},
   "y":{"field":"v2","type":"quantitative","scale":{"domain":[-0.8,-0.5],"nice":false,"zero":false},"axis":null}}},
 {"data":{"name":"ph"},"transform":[{"filter":"datum.p==4"}],"mark":{"type":"line","clip":true,"opacity":0},
  "encoding":{"x":{"field":"h","type":"quantitative","scale":{"domain":[0.1,0.5],"nice":false,"zero":false},"axis":{"orient":"top","values":[0.2,0.4],"labels":false,"title":null}},
   "y":{"field":"v","type":"quantitative","scale":{"domain":[-0.8,-0.5],"nice":false,"zero":false},"axis":{"orient":"right","values":[-0.8,-0.7,-0.6,-0.5],"labels":false,"title":null}},
   "order":{"value":null}}}
]},
{"width":116,"height":191,"resolve":{"axis":{"x":"independent","y":"independent"}},"layer":[
 {"data":{"name":"ts"},"transform":[{"filter":"datum.p==5"}],"mark":{"type":"line","clip":true,"color":"black","strokeWidth":2.6},
  "encoding":{"x":{"field":"t","type":"quantitative","scale":{"domain":[0,200],"nice":false,"zero":false},"axis":{"orient":"bottom","values":[0,100,200],"title":"t (msec)","titleX":58,"titleY":46,"titleAlign":"center","titleBaseline":"alphabetic"}},
   "y":{"field":"v","type":"quantitative","scale":{"domain":[-0.8,-0.45],"nice":false,"zero":false},"axis":{"orient":"left","values":[-0.8,-0.7,-0.6,-0.5],"format":".1f","title":"v","titleFontSize":20,"titleAngle":0,"titleX":-64,"titleY":56,"titleAlign":"center","titleBaseline":"middle"}},
   "order":{"value":null}}},
 {"data":{"name":"ts"},"transform":[{"filter":"datum.p==5"}],"mark":{"type":"line","clip":true,"opacity":0},
  "encoding":{"x":{"field":"t","type":"quantitative","scale":{"domain":[0,200],"nice":false,"zero":false},"axis":{"orient":"top","values":[0,100,200],"labels":false,"title":null}},
   "y":{"field":"v","type":"quantitative","scale":{"domain":[-0.8,-0.45],"nice":false,"zero":false},"axis":{"orient":"right","values":[-0.8,-0.7,-0.6,-0.5],"labels":false,"title":null}},
   "order":{"value":null}}}
]},
{"width":116,"height":191,"resolve":{"axis":{"x":"independent","y":"independent"}},"layer":[
 {"data":{"name":"ts"},"transform":[{"filter":"datum.p==6"}],"mark":{"type":"line","clip":true,"color":"black","strokeWidth":2.6},
  "encoding":{"x":{"field":"t","type":"quantitative","scale":{"domain":[0,200],"nice":false,"zero":false},"axis":{"orient":"bottom","values":[0,100,200],"title":"t (msec)","titleX":58,"titleY":46,"titleAlign":"center","titleBaseline":"alphabetic"}},
   "y":{"field":"v","type":"quantitative","scale":{"domain":[-0.8,-0.45],"nice":false,"zero":false},"axis":{"orient":"left","values":[-0.8,-0.7,-0.6,-0.5],"labels":false,"title":null}},
   "order":{"value":null}}},
 {"data":{"name":"ts"},"transform":[{"filter":"datum.p==6"}],"mark":{"type":"line","clip":true,"opacity":0},
  "encoding":{"x":{"field":"t","type":"quantitative","scale":{"domain":[0,200],"nice":false,"zero":false},"axis":{"orient":"top","values":[0,100,200],"labels":false,"title":null}},
   "y":{"field":"v","type":"quantitative","scale":{"domain":[-0.8,-0.45],"nice":false,"zero":false},"axis":{"orient":"right","values":[-0.8,-0.7,-0.6,-0.5],"labels":false,"title":null}},
   "order":{"value":null}}}
]},
{"width":116,"height":191,"resolve":{"axis":{"x":"independent","y":"independent"}},"layer":[
 {"data":{"name":"ts"},"transform":[{"filter":"datum.p==7"}],"mark":{"type":"line","clip":true,"color":"black","strokeWidth":2.6},
  "encoding":{"x":{"field":"t","type":"quantitative","scale":{"domain":[0,100],"nice":false,"zero":false},"axis":{"orient":"bottom","values":[0,50,100],"title":"t (msec)","titleX":58,"titleY":46,"titleAlign":"center","titleBaseline":"alphabetic"}},
   "y":{"field":"v","type":"quantitative","scale":{"domain":[-0.8,-0.45],"nice":false,"zero":false},"axis":{"orient":"left","values":[-0.8,-0.7,-0.6,-0.5],"labels":false,"title":null}},
   "order":{"value":null}}},
 {"data":{"name":"ts"},"transform":[{"filter":"datum.p==7"}],"mark":{"type":"line","clip":true,"opacity":0},
  "encoding":{"x":{"field":"t","type":"quantitative","scale":{"domain":[0,100],"nice":false,"zero":false},"axis":{"orient":"top","values":[0,50,100],"labels":false,"title":null}},
   "y":{"field":"v","type":"quantitative","scale":{"domain":[-0.8,-0.45],"nice":false,"zero":false},"axis":{"orient":"right","values":[-0.8,-0.7,-0.6,-0.5],"labels":false,"title":null}},
   "order":{"value":null}}}
]},
{"width":116,"height":191,"resolve":{"axis":{"x":"independent","y":"independent"}},"layer":[
 {"data":{"name":"ph"},"transform":[{"filter":"datum.p==8"}],"mark":{"type":"line","clip":true,"color":"black","strokeWidth":2.8},
  "encoding":{"x":{"field":"h","type":"quantitative","scale":{"domain":[0.1,0.5],"nice":false,"zero":false},"axis":{"orient":"bottom","values":[0.2,0.4],"format":".1f","title":"h","titleX":58,"titleY":48,"titleAlign":"center","titleBaseline":"alphabetic"}},
   "y":{"field":"v","type":"quantitative","scale":{"domain":[-0.8,-0.5],"nice":false,"zero":false},"axis":{"orient":"left","values":[-0.8,-0.7,-0.6,-0.5],"labels":false,"title":null}},
   "detail":{"field":"s","type":"nominal"},
   "strokeDash":{"field":"s","type":"nominal","scale":{"domain":["a4","b4","c4","d4","a8","b8","e8","g8"],"range":[[1,0],[6,3],[1,0],[6,2,2,2],[7,2,2,2],[6,3],[6,3],[1,0]]},"legend":null},
   "order":{"value":null}}},
 {"data":{"name":"ph"},"transform":[{"filter":"datum.p==9"}],"mark":{"type":"line","clip":true,"color":"black","strokeWidth":1.8},
  "encoding":{"x":{"field":"h","type":"quantitative","scale":{"domain":[0.1,0.5],"nice":false,"zero":false},"axis":null},
   "y":{"field":"v","type":"quantitative","scale":{"domain":[-0.8,-0.5],"nice":false,"zero":false},"axis":null},
   "detail":{"field":"s","type":"nominal"},
   "order":{"value":null}}},
 {"data":{"name":"dot"},"mark":{"type":"point","shape":"circle","filled":true,"color":"black","size":12,"opacity":1},
  "encoding":{"x":{"field":"h","type":"quantitative","scale":{"domain":[0.1,0.5],"nice":false,"zero":false},"axis":null},
   "y":{"field":"v","type":"quantitative","scale":{"domain":[-0.8,-0.5],"nice":false,"zero":false},"axis":null}}},
 {"data":{"name":"ph"},"transform":[{"filter":"datum.p==8"}],"mark":{"type":"line","clip":true,"opacity":0},
  "encoding":{"x":{"field":"h","type":"quantitative","scale":{"domain":[0.1,0.5],"nice":false,"zero":false},"axis":{"orient":"top","values":[0.2,0.4],"labels":false,"title":null}},
   "y":{"field":"v","type":"quantitative","scale":{"domain":[-0.8,-0.5],"nice":false,"zero":false},"axis":{"orient":"right","values":[-0.8,-0.7,-0.6,-0.5],"labels":false,"title":null}},
   "order":{"value":null}}}
]}
]
}
